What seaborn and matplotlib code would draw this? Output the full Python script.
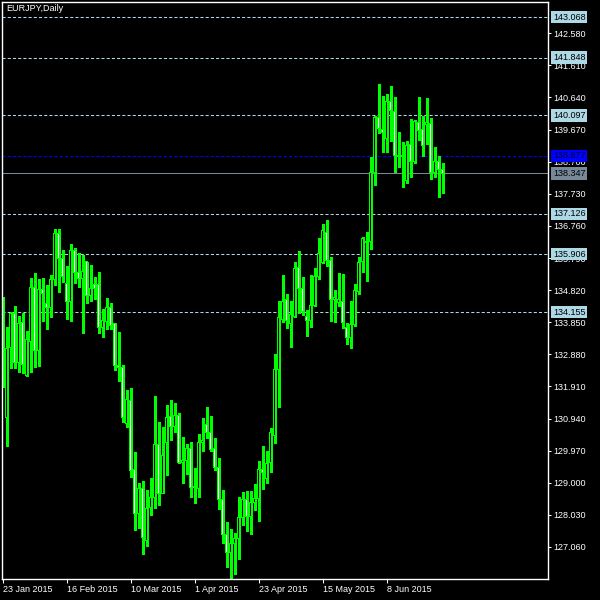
import matplotlib
matplotlib.use("Agg")
import matplotlib.pyplot as plt
import matplotlib.transforms as mtrans
import numpy as np
import pandas as pd
import seaborn as sns

sns.set_style("dark", {"axes.facecolor": "black", "figure.facecolor": "black"})
plt.rcParams["font.family"] = ["Liberation Sans", "DejaVu Sans"]

# ---- data (EURJPY daily) ----
opens = [134.522, 130.978, 133.093, 134.120, 132.628, 133.848, 132.235, 133.262, 134.905, 132.990,
         134.845, 134.422, 134.301, 135.147, 136.516, 135.781, 135.026, 134.470, 136.011, 135.359,
         135.177, 135.679, 134.643, 134.996, 134.996, 133.697, 133.866, 134.301, 133.797, 132.558,
         132.489, 130.797, 131.479, 129.407, 128.078, 128.833, 127.250, 128.259, 128.561, 130.162,
         128.682, 130.211, 130.996, 130.694, 131.047, 129.606, 129.667, 130.041, 128.881, 128.833,
         130.223, 130.767, 130.525, 130.041, 129.467, 128.501, 127.452, 126.900, 127.171, 127.322,
         127.957, 128.501, 127.975, 128.410, 128.531, 129.407, 129.135, 129.606, 130.422, 132.428,
         133.939, 134.543, 133.818, 134.017, 135.510, 134.875, 134.038, 133.896, 134.350, 135.226,
         135.649, 136.567, 135.730, 134.543, 134.452, 134.491, 133.697, 133.383, 133.788, 134.772,
         135.679, 136.304, 136.283, 138.368, 140.041, 139.688, 139.407, 140.534, 140.210, 138.881,
         138.893, 138.147, 139.226, 138.700, 139.890, 139.658, 139.830, 139.860, 138.380, 138.721,
         138.479]
highs = [134.612, 133.715, 134.168, 134.340, 134.038, 134.138, 133.585, 135.177, 135.328, 135.147,
         135.177, 134.975, 135.277, 136.667, 136.667, 136.032, 135.549, 136.214, 136.084, 135.951,
         135.881, 135.679, 135.579, 135.208, 135.359, 134.241, 134.573, 134.422, 133.818, 133.564,
         132.558, 131.803, 131.854, 129.939, 128.984, 129.054, 128.782, 129.135, 131.621, 130.827,
         130.676, 131.350, 131.501, 131.401, 131.099, 130.392, 130.171, 130.223, 129.437, 130.473,
         130.948, 131.280, 131.017, 130.344, 129.739, 128.782, 127.806, 127.603, 127.473, 128.561,
         128.712, 128.752, 128.752, 128.963, 129.658, 130.111, 129.969, 130.646, 132.890, 134.491,
         135.277, 134.703, 134.491, 135.679, 136.011, 135.226, 134.220, 135.277, 135.479, 136.404,
         136.818, 136.939, 135.812, 134.824, 135.346, 135.307, 133.827, 134.491, 134.996, 135.812,
         136.434, 136.567, 138.851, 140.090, 141.047, 140.685, 140.745, 140.987, 140.645, 139.588,
         139.286, 139.334, 139.990, 139.960, 140.645, 140.090, 140.615, 140.011, 139.135, 138.872,
         138.652]
lows = [131.893, 130.120, 132.458, 132.458, 132.356, 132.325, 132.235, 132.356, 132.507, 132.528,
        133.896, 133.646, 134.017, 134.975, 134.772, 135.075, 133.948, 133.896, 135.044, 134.924,
        133.534, 134.422, 134.501, 134.543, 133.516, 133.413, 133.636, 133.636, 132.398, 132.081,
        130.845, 130.676, 129.183, 127.573, 127.624, 126.848, 127.099, 128.026, 128.229, 128.328,
        128.682, 129.235, 130.292, 130.543, 129.588, 129.002, 129.265, 128.579, 128.380, 128.579,
        129.969, 130.344, 129.969, 129.386, 128.208, 127.171, 126.464, 126.093, 126.244, 126.697,
        127.724, 127.552, 127.443, 128.177, 127.854, 128.803, 128.984, 129.334, 130.211, 131.280,
        133.866, 133.667, 133.093, 133.999, 134.138, 134.069, 133.443, 133.715, 134.350, 135.156,
        135.649, 135.558, 133.896, 133.866, 134.350, 133.691, 133.192, 133.063, 133.736, 134.703,
        135.377, 135.105, 136.062, 137.996, 139.558, 139.002, 139.002, 139.334, 138.398, 138.549,
        137.945, 138.065, 138.229, 138.652, 139.355, 138.881, 139.235, 138.177, 138.229, 137.643,
        137.745]
closes = [131.954, 133.063, 134.120, 132.628, 133.818, 132.579, 133.334, 134.905, 132.990, 134.845,
          134.724, 134.301, 135.147, 136.516, 135.781, 135.226, 134.470, 136.011, 135.359, 135.177,
          135.377, 134.643, 134.875, 134.875, 133.697, 133.917, 134.301, 133.766, 132.537, 132.489,
          130.978, 131.501, 129.386, 128.078, 128.833, 127.353, 128.229, 128.561, 130.162, 128.682,
          129.839, 130.978, 130.694, 131.047, 129.606, 129.688, 130.041, 128.863, 128.863, 130.223,
          130.292, 130.525, 130.011, 129.467, 128.501, 127.452, 126.900, 127.171, 127.322, 127.957,
          128.501, 127.975, 128.410, 128.531, 129.407, 129.304, 129.588, 130.525, 132.428, 133.999,
          134.491, 133.917, 134.069, 135.479, 134.875, 134.189, 133.896, 134.350, 135.226, 135.933,
          136.615, 135.730, 134.543, 134.603, 134.543, 133.842, 133.395, 133.788, 134.794, 135.661,
          136.386, 136.253, 138.368, 140.041, 139.709, 139.588, 140.534, 140.262, 138.881, 138.866,
          138.872, 139.204, 138.700, 139.908, 139.636, 139.183, 139.890, 138.380, 138.721, 138.479,
          138.347]

level_prices = [143.068, 141.848, 140.097, 137.126, 135.906, 134.155]
ask_price = 138.877
bid_price = 138.347

ytick_values = [127.060, 128.030, 129.000, 129.970, 130.940, 131.910, 132.880, 133.850, 134.820,
                135.790, 136.760, 137.730, 138.700, 139.670, 140.640, 141.610, 142.580]
xtick_bars = [0, 16, 32, 48, 64, 80, 96]
xtick_labels = ["23 Jan 2015", "16 Feb 2015", "10 Mar 2015", "1 Apr 2015",
                "23 Apr 2015", "15 May 2015", "8 Jun 2015"]
title = "EURJPY,Daily"

df = pd.DataFrame({"open": opens, "high": highs, "low": lows, "close": closes})
df["bar"] = np.arange(len(df))
df["bottom"] = df[["open", "close"]].min(axis=1)
df["height"] = (df["close"] - df["open"]).abs()
df["fill"] = np.where(df["close"] >= df["open"], "black", "white")

GREEN = "#00ff00"
LBLUE = "#add8e6"

fig = plt.figure(figsize=(6, 6), dpi=100, facecolor="black")
ax = fig.add_axes([2 / 600, 21 / 600, 546 / 600, 577 / 600])
ax.set_facecolor("black")

YMIN, YMAX = 126.093, 143.525
ax.set_xlim(-0.175, 136.3)
ax.set_ylim(YMIN, YMAX)
px = (YMAX - YMIN) / 577.0   # one pixel in price units

# level lines
for p in level_prices:
    ax.axhline(p, color=LBLUE, lw=0.75, ls=(0, (3, 2)), zorder=1)
ax.axhline(ask_price, color="#0000ff", lw=0.75, ls=(0, (3, 2)), zorder=1)
ax.axhline(bid_price, color="#778899", lw=0.75, zorder=1)

# candles: wick, green body outline (3 px), inner fill (1 px)
ax.vlines(df["bar"], df["low"], df["high"], colors=GREEN, linewidth=0.75,
          antialiased=False, zorder=2)
ax.bar(df["bar"], df["height"] + px, bottom=df["bottom"] - px / 2, width=0.75,
       color=GREEN, linewidth=0, antialiased=False, zorder=3)
inner_h = np.clip(df["height"] - px, 0, None)
ax.bar(df["bar"], inner_h, bottom=df["bottom"] + px / 2, width=0.25,
       color=df["fill"], linewidth=0, antialiased=False, zorder=4)

for s in ax.spines.values():
    s.set_color("white")
    s.set_linewidth(1.0)
    s.set_visible(True)
    s.set_zorder(5)
ax.grid(False)

ax.yaxis.tick_right()
ax.set_yticks(ytick_values)
ax.set_yticklabels([f"{v:.3f}" for v in ytick_values])
ax.set_xticks(xtick_bars)
ax.set_xticklabels(xtick_labels)
for lab in ax.get_xticklabels():
    lab.set_horizontalalignment("left")
ax.tick_params(axis="y", colors="white", labelsize=6.5, length=2.2, width=0.75,
               pad=1.5, direction="out", right=True, left=False)
ax.tick_params(axis="x", colors="white", labelsize=6.5, length=3, width=0.75,
               pad=1.0, direction="out", bottom=True)

trans = mtrans.blended_transform_factory(ax.transAxes, ax.transData)
for p in level_prices:
    ax.text(1.009, p, f"{p:.3f}", transform=trans, va="center", ha="left", fontsize=6.5,
            color="black", clip_on=False, zorder=6,
            bbox=dict(boxstyle="square,pad=0.18", fc=LBLUE, ec="none"))
ax.text(1.009, ask_price, f"{ask_price:.3f}", transform=trans, va="center", ha="left",
        fontsize=6.5, color="#000030", clip_on=False, zorder=6,
        bbox=dict(boxstyle="square,pad=0.18", fc="#0000ff", ec="none"))
ax.text(1.009, bid_price, f"{bid_price:.3f}", transform=trans, va="center", ha="left",
        fontsize=6.5, color="black", clip_on=False, zorder=6,
        bbox=dict(boxstyle="square,pad=0.18", fc="#778899", ec="none"))

ax.text(0.0086, 0.9965, title, transform=ax.transAxes, color="white", fontsize=6.5,
        va="top", ha="left", zorder=6)

fig.savefig("out.png", dpi=100, facecolor="black")
